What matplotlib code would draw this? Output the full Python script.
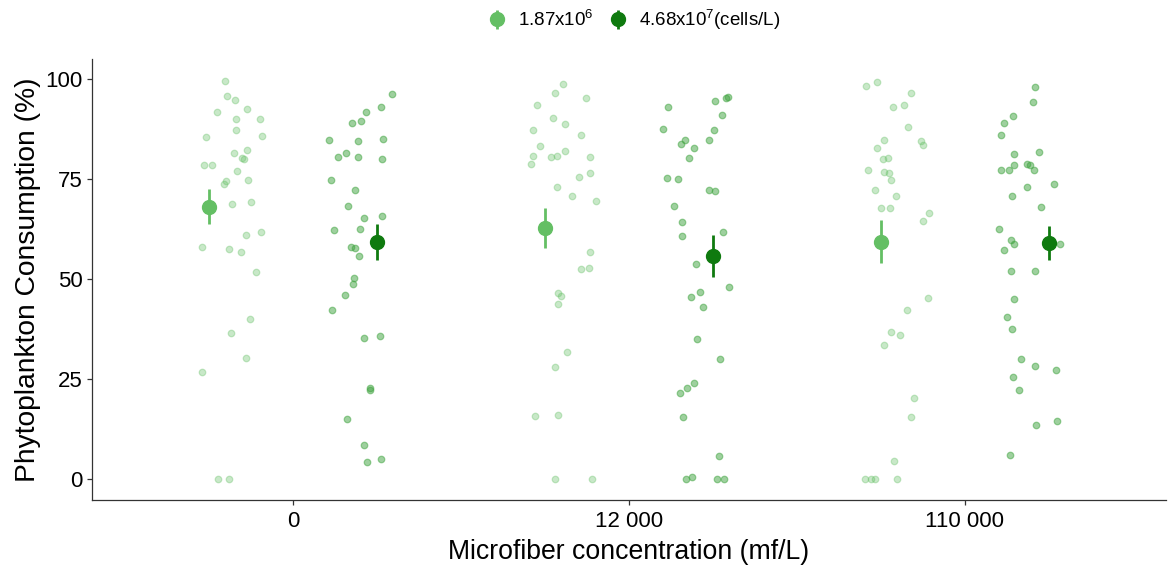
import numpy as np
import matplotlib
matplotlib.use("Agg")
import matplotlib.pyplot as plt

plt.rcParams['font.family'] = ['Liberation Sans', 'DejaVu Sans']
plt.rcParams['mathtext.fontset'] = 'custom'
plt.rcParams['mathtext.rm'] = 'Liberation Sans'
plt.rcParams['mathtext.default'] = 'regular'

# microfiber treatments on the x axis
concentrations = ["0", "12 000", "110 000"]
densities = ["1.87x10$^{6}$", "4.68x10$^{7}$(cells/L)"]

# consumption (%) per replicate, low phytoplankton density
low_0 = [99.6, 95.8, 94.8, 91.7, 92.5, 90.0, 90.0, 87.3, 85.5, 85.8, 82.3, 81.5,
         80.3, 80.0, 78.6, 78.6, 77.1, 74.7, 74.5, 73.9, 68.9, 69.2, 61.0, 61.7,
         58.1, 57.5, 56.7, 51.9, 40.1, 36.5, 30.4, 26.9, 0.0, 0.0]
low_12000 = [98.7, 96.6, 95.2, 93.4, 90.2, 88.8, 87.3, 85.9, 83.2, 80.9, 80.5,
             80.9, 82.0, 80.5, 78.8, 75.6, 76.5, 73.0, 70.7, 69.5, 56.7, 52.5,
             52.9, 46.5, 45.9, 43.8, 31.8, 28.1, 15.8, 16.1, 0.0, 0.0]
low_110000 = [98.3, 99.3, 96.6, 93.1, 93.4, 87.9, 84.7, 84.4, 83.5, 82.9, 80.0,
              80.3, 77.4, 76.8, 76.5, 74.7, 72.4, 70.7, 67.8, 67.8, 66.6, 64.5,
              45.3, 42.4, 36.8, 36.0, 33.6, 20.4, 15.5, 4.7, 0.0, 0.0, 0.0, 0.0]

# consumption (%) per replicate, high phytoplankton density
high_0 = [96.3, 92.9, 91.7, 89.0, 89.4, 84.7, 84.4, 85.0, 80.5, 81.5, 80.5, 80.0,
          74.7, 72.4, 68.3, 65.2, 65.7, 62.2, 62.5, 58.1, 57.9, 55.8, 50.2, 48.8,
          46.1, 42.4, 35.3, 35.9, 22.9, 22.3, 15.0, 8.6, 4.4, 5.0]
high_12000 = [93.1, 94.6, 95.2, 95.5, 91.1, 87.5, 87.3, 83.8, 84.7, 82.9, 84.7,
              80.3, 75.3, 75.1, 72.4, 72.1, 68.3, 64.3, 60.8, 61.9, 53.8, 48.0,
              45.6, 46.7, 43.0, 35.1, 30.1, 24.0, 22.8, 21.7, 15.5, 5.9, 0.7, 0.0,
              0.0, 0.0]
high_110000 = [98.1, 94.3, 90.8, 89.0, 85.9, 81.2, 81.8, 77.4, 77.4, 78.6, 78.8,
               78.6, 77.4, 73.0, 73.9, 70.7, 68.1, 62.5, 59.9, 58.7, 57.3, 58.7,
               52.0, 52.0, 45.0, 40.6, 37.7, 30.2, 28.4, 27.3, 25.5, 22.3, 13.5,
               14.6, 6.1]

# horizontal jitter of each replicate (category units)
jit_low_0 = [0.045, 0.053, 0.076, 0.021, 0.112, 0.080, 0.152, 0.080, -0.011, 0.157,
             0.112, 0.073, 0.097, 0.104, -0.015, 0.008, 0.083, 0.115, 0.048, 0.042,
             0.066, 0.125, 0.108, 0.154, -0.021, 0.059, 0.094, 0.140, 0.122, 0.063,
             0.108, -0.021, 0.024, 0.059]
jit_low_12000 = [0.053, 0.029, 0.123, -0.023, 0.025, 0.060, -0.037, 0.108, -0.015,
                 -0.037, 0.018, 0.036, 0.060, 0.133, -0.041, 0.102, 0.133, 0.036,
                 0.081, 0.151, 0.133, 0.108, 0.130, 0.039, 0.046, 0.039, 0.064,
                 0.029, -0.030, 0.039, 0.029, 0.140]
jit_low_110000 = [-0.044, -0.012, 0.089, 0.036, 0.068, 0.081, 0.011, 0.119, 0.127,
                  -0.012, 0.007, 0.023, -0.037, 0.011, 0.026, 0.032, -0.017, 0.047,
                  0.001, 0.029, 0.144, 0.126, 0.140, 0.078, 0.032, 0.057, 0.011,
                  0.098, 0.089, 0.039, -0.048, -0.030, -0.017, 0.050]
jit_high_0 = [0.043, 0.012, -0.034, -0.075, -0.048, -0.145, -0.058, 0.018, -0.117,
              -0.093, -0.058, 0.015, -0.138, -0.065, -0.086, -0.041, 0.015, -0.128,
              -0.051, -0.078, -0.065, -0.054, -0.069, -0.073, -0.096, -0.135,
              -0.041, 0.009, -0.023, -0.022, -0.089, -0.041, -0.030, 0.012]
jit_high_12000 = [-0.133, 0.006, 0.040, 0.044, 0.026, -0.148, 0.003, -0.095, -0.084,
                  -0.057, -0.011, -0.071, -0.137, -0.105, -0.011, 0.006, -0.116,
                  -0.092, -0.092, 0.030, -0.050, 0.047, -0.064, -0.039, -0.029,
                  -0.046, 0.020, -0.057, -0.078, -0.098, -0.089, 0.017, -0.061,
                  -0.081, 0.012, 0.034]
jit_high_110000 = [-0.039, -0.046, -0.105, -0.133, -0.141, -0.102, -0.029, -0.141,
                   -0.119, -0.102, -0.064, -0.054, -0.042, -0.064, 0.017, -0.109,
                   -0.022, -0.147, -0.112, -0.102, -0.133, 0.034, -0.112, -0.039,
                   -0.102, -0.123, -0.109, -0.081, -0.039, 0.021, -0.105, -0.089,
                   -0.036, 0.026, -0.116]

# group means and standard errors
low_mean = [68.1, 62.8, 59.4]
low_se = [4.35, 4.9, 5.4]
high_mean = [59.3, 55.8, 59.0]
high_se = [4.6, 5.3, 4.3]

light_green = "#64BF64"
dark_green = "#0F7A0F"
dodge = 0.25

fig = plt.figure(figsize=(11.69, 5.67), dpi=100)
ax = fig.add_axes([92 / 1169, 67.5 / 567, 1074 / 1169, 440.5 / 567])

x = np.arange(1, len(concentrations) + 1)

low_pts = [low_0, low_12000, low_110000]
high_pts = [high_0, high_12000, high_110000]
low_jit = [jit_low_0, jit_low_12000, jit_low_110000]
high_jit = [jit_high_0, jit_high_12000, jit_high_110000]

for i in range(len(concentrations)):
    xl = x[i] - dodge + np.array(low_jit[i])
    ax.scatter(xl, low_pts[i], s=22, facecolor=light_green, edgecolor=light_green,
               linewidths=0.9, alpha=0.35, zorder=2)
    xh = x[i] + dodge + np.array(high_jit[i])
    ax.scatter(xh, high_pts[i], s=22, facecolor="#3FA33F", edgecolor="#3FA33F",
               linewidths=0.9, alpha=0.5, zorder=2)

ax.errorbar(x - dodge, low_mean, yerr=low_se, fmt='o', color=light_green,
            markersize=10, elinewidth=2, capsize=0, zorder=3, label=densities[0])
ax.errorbar(x + dodge, high_mean, yerr=high_se, fmt='o', color=dark_green,
            markersize=10, elinewidth=2, capsize=0, zorder=3, label=densities[1])

ax.set_xlim(0.4, 3.6)
ax.set_ylim(-5, 105)
ax.set_xticks(x)
ax.set_xticklabels(concentrations)
ax.set_yticks([0, 25, 50, 75, 100])

for side in ['top', 'right']:
    ax.spines[side].set_visible(False)
for side in ['left', 'bottom']:
    ax.spines[side].set_color('#333333')
    ax.spines[side].set_linewidth(0.9)

ax.tick_params(axis='both', length=3.6, width=0.9, color='#333333',
               labelsize=16, labelcolor='black', pad=3)
ax.tick_params(axis='x', pad=5)

ax.set_xlabel("Microfiber concentration (mf/L)", fontsize=19.2, labelpad=5)
ax.set_ylabel("Phytoplankton Consumption (%)", fontsize=20.3, labelpad=3)

fig.legend(loc='center', bbox_to_anchor=(634 / 1169, 1 - 20 / 567), ncol=2,
           frameon=False, fontsize=13.5, handlelength=1.0, handletextpad=0.6,
           columnspacing=0.8, borderpad=0, markerscale=1.0)

fig.savefig("out.png", dpi=100)
